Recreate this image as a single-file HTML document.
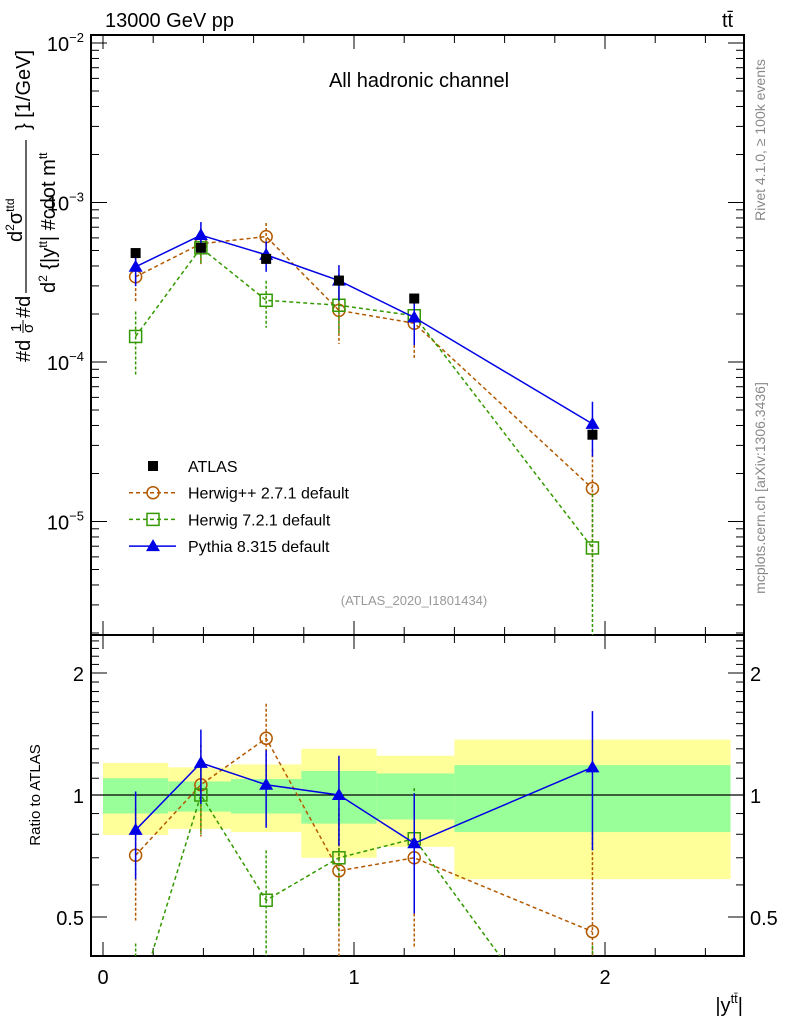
<!DOCTYPE html>
<html><head><meta charset="utf-8"><style>
html,body{margin:0;background:#fff;overflow:hidden;width:786px;height:1024px;}
svg{display:block;font-family:"Liberation Sans",sans-serif;}
</style></head><body>
<svg id="c" width="786" height="1024" xmlns="http://www.w3.org/2000/svg">
<g id="bands"></g>
<g id="axes"></g>
<g id="series"></g>
<text x="105" y="27" font-size="20">13000 GeV pp</text>
<text x="722" y="27" font-size="20">tt̄</text>
<text x="419" y="87" font-size="20" text-anchor="middle">All hadronic channel</text>
<text x="414" y="605" font-size="13" fill="#999" text-anchor="middle">(ATLAS_2020_I1801434)</text>
<text transform="translate(765,140) rotate(-90)" font-size="14" fill="#888" text-anchor="middle">Rivet 4.1.0, ≥ 100k events</text>
<text transform="translate(765,488) rotate(-90)" font-size="14" fill="#888" text-anchor="middle">mcplots.cern.ch [arXiv:1306.3436]</text>
<g font-size="20">
<text transform="translate(30,362) rotate(-90)">#d</text>
<text transform="translate(21,332) rotate(-90)" font-size="15">1</text>
<text transform="translate(33,333) rotate(-90)" font-size="15">σ</text>
<line x1="23" y1="320" x2="23" y2="333" stroke="#000" stroke-width="1"/>
<text transform="translate(30,318) rotate(-90)">#d</text>
<line x1="26" y1="293" x2="26" y2="140" stroke="#000" stroke-width="1.2"/>
<text transform="translate(22,242) rotate(-90)">d<tspan font-size="12" dy="-8">2</tspan><tspan dy="8">σ</tspan><tspan font-size="12" dy="-8">ttd</tspan></text>
<text transform="translate(55,293) rotate(-90)">d<tspan font-size="12" dy="-8">2</tspan><tspan dy="8"> {|y</tspan><tspan font-size="12" dy="-8">tt</tspan><tspan dy="8">| #cdot m</tspan><tspan font-size="12" dy="-8">tt</tspan></text>
<text transform="translate(30,130) rotate(-90)">} [1/GeV]</text>
</g>
<text transform="translate(40,795) rotate(-90)" font-size="15" text-anchor="middle">Ratio to ATLAS</text>
<text x="743" y="1012" font-size="20" text-anchor="end">|y<tspan font-size="13" dy="-9">tt̄</tspan><tspan dy="9">|</tspan></text>
<g id="legend"></g>
</svg>
<script>
const xCenters=[0.13,0.39,0.65,0.94,1.24,1.95];
const binEdges=[0,0.26,0.51,0.79,1.09,1.4,2.5];
const atlasValues=[4.82e-4,5.2e-4,4.43e-4,3.24e-4,2.5e-4,3.5e-5];
const yellowUp=[1.2,1.17,1.19,1.3,1.25,1.37];
const yellowDn=[0.797,0.825,0.81,0.70,0.745,0.62];
const greenUp=[1.10,1.08,1.095,1.146,1.13,1.185];
const greenDn=[0.90,0.91,0.90,0.85,0.87,0.81];
const pythiaRatio=[0.82,1.2,1.06,1.0,0.76,1.17];
const pythiaErr=[0.2,0.25,0.23,0.25,0.25,0.44];
const herwigppRatio=[0.71,1.06,1.38,0.65,0.70,0.46];
const herwigppErr=[0.22,0.27,0.3,0.25,0.28,0.35];
const herwig7Ratio=[0.30,1.0,0.55,0.70,0.78,0.195];
const herwig7Err=[0.13,0.2,0.18,0.23,0.26,0.23];
const xTicks=[0,1,2];
const mainTickExps=[-2,-3,-4,-5];
const ratioTicks=[0.5,1,2];

const NS="http://www.w3.org/2000/svg";
const X0=91,X1=744,MT=35,MB=635,RB=956;
const xs=v=>103+251*v;
const ym=v=>43-159.5*(Math.log10(v)+2);
const yr=v=>795-122*Math.log2(v);
function mk(parent,tag,attrs){const e=document.createElementNS(NS,tag);for(const k in attrs)e.setAttribute(k,attrs[k]);document.getElementById(parent).appendChild(e);return e;}

for(let i=0;i<6;i++){
 const a=xs(binEdges[i]),b=xs(binEdges[i+1]);
 let e=mk('bands','rect',{x:a,y:yr(yellowUp[i]),width:b-a,height:yr(yellowDn[i])-yr(yellowUp[i]),fill:'#ffff99'});
 
 
 e=mk('bands','rect',{x:a,y:yr(greenUp[i]),width:b-a,height:yr(greenDn[i])-yr(greenUp[i]),fill:'#99ff99'});
 
 
}
mk('axes','rect',{x:X0,y:MT,width:X1-X0,height:MB-MT,fill:'none',stroke:'#000','stroke-width':2});
mk('axes','rect',{x:X0,y:MB,width:X1-X0,height:RB-MB,fill:'none',stroke:'#000','stroke-width':2});
mk('axes','line',{x1:X0,x2:X1,y1:yr(1),y2:yr(1),stroke:'#000','stroke-width':1.2});
for(let k=0;k<=25;k+=2){
 const v=k/10;const x=xs(v);if(x>X1)break;
 const maj=k%10==0;const L=maj?14:8;
 for(const [yb,d] of [[MT,1],[MB,-1],[MB,1],[RB,-1]]) mk('axes','line',{x1:x,x2:x,y1:yb,y2:yb+d*L,stroke:'#000','stroke-width':1});
}
xTicks.forEach(v=>{const t=mk('axes','text',{x:xs(v),y:984,'font-size':20,'text-anchor':'middle'});t.textContent=v;});
for(let e=-6;e<=-2;e++)for(let m=1;m<10;m++){
 const v=m*Math.pow(10,e);const y=ym(v);if(y<MT||y>MB)continue;
 const L=m==1?16:8;
 mk('axes','line',{x1:X0,x2:X0+L,y1:y,y2:y,stroke:'#000'});
 mk('axes','line',{x1:X1,x2:X1-L,y1:y,y2:y,stroke:'#000'});
}
mainTickExps.forEach(e=>{const t=mk('axes','text',{x:84,y:ym(Math.pow(10,e))+8,'font-size':20,'text-anchor':'end'});t.innerHTML='10<tspan font-size="13" dy="-9">−'+(-e)+'</tspan>';});
for(let k=4;k<25;k++){const v=k/10;const y=yr(v);if(y<MB||y>RB)continue;
 const maj=ratioTicks.some(r=>Math.abs(r-v)<1e-6);const L=maj?16:8;
 mk('axes','line',{x1:X0,x2:X0+L,y1:y,y2:y,stroke:'#000'});
 mk('axes','line',{x1:X1,x2:X1-L,y1:y,y2:y,stroke:'#000'});}
ratioTicks.forEach(v=>{let t=mk('axes','text',{x:84,y:yr(v)+8,'font-size':20,'text-anchor':'end'});t.textContent=v;
 t=mk('axes','text',{x:750,y:yr(v)+8,'font-size':20});t.textContent=v;});

function clipY(y,top,bot){return Math.max(top,Math.min(bot,y));}
function marker(g,type,x,y,col){
 if(type=='circle')return mk(g,'circle',{cx:x,cy:y,r:6,fill:'none',stroke:col,'stroke-width':1.5});
 if(type=='square')return mk(g,'rect',{x:x-6,y:y-6,width:12,height:12,fill:'none',stroke:col,'stroke-width':1.5});
 if(type=='tri')return mk(g,'path',{d:`M${x},${y-7}L${x+7},${y+5}L${x-7},${y+5}Z`,fill:col});
 if(type=='fsq')return mk(g,'rect',{x:x-5,y:y-5,width:10,height:10,fill:col});
}
const defs=document.createElementNS(NS,'defs');
defs.innerHTML=`<clipPath id="cm"><rect x="${X0}" y="${MT}" width="${X1-X0}" height="${MB-MT}"/></clipPath><clipPath id="cr"><rect x="${X0}" y="${MB}" width="${X1-X0}" height="${RB-MB}"/></clipPath>`;
document.getElementById('c').prepend(defs);
const series=[
 {name:'herwigpp',ratio:herwigppRatio,err:herwigppErr,col:'#b35900',m:'circle',dash:'4,3'},
 {name:'herwig7',ratio:herwig7Ratio,err:herwig7Err,col:'#339900',m:'square',dash:'4,3'},
 {name:'pythia',ratio:pythiaRatio,err:pythiaErr,col:'#0000e6',m:'tri',dash:''}];
series.forEach(s=>{
 const g=mk('series','g',{});
 
 
 g.id=s.name;
 const mp=xCenters.map((x,i)=>[xs(x),ym(s.ratio[i]*atlasValues[i])]);
 const rp=xCenters.map((x,i)=>[xs(x),yr(s.ratio[i])]);
 for(const [pts,top,bot,f] of [[mp,MT,MB,(i,r)=>ym(r*atlasValues[i])],[rp,MB,RB,(i,r)=>yr(r)]]){
  mk(s.name,'path',{d:'M'+pts.map(p=>p.join(',')).join('L'),fill:'none',stroke:s.col,'stroke-width':1.5,'stroke-dasharray':s.dash,'clip-path':top==MT?'url(#cm)':'url(#cr)'});
  pts.forEach((p,i)=>{
   const up=s.ratio[i]+s.err[i],dn=Math.max(1e-3,s.ratio[i]-s.err[i]);
   const y1=clipY(f(i,up),top,bot),y2=clipY(f(i,dn),top,bot);
   mk(s.name,'line',{x1:p[0],x2:p[0],y1:y1,y2:y2,stroke:s.col,'stroke-width':1.5,'stroke-dasharray':s.dash?'3,2':''});
   if(p[1]>=top&&p[1]<=bot){const e=marker(s.name,s.m,p[0],p[1],s.col);
    
    }
  });
 }
});
atlasValues.forEach((v,i)=>{const e=marker('series','fsq',xs(xCenters[i]),ym(v),'#000');
 
 });
const leg=[['ATLAS','#000','fsq',null],['Herwig++ 2.7.1 default','#b35900','circle','4,3'],['Herwig 7.2.1 default','#339900','square','4,3'],['Pythia 8.315 default','#0000e6','tri','']];
leg.forEach((l,i)=>{const y=466+26.7*i;
 if(l[3]!==null)mk('legend','line',{x1:129,x2:176,y1:y,y2:y,stroke:l[1],'stroke-width':1.5,'stroke-dasharray':l[3]});
 const m=marker('legend',l[2],153,y,l[1]);
 
 
 const t=mk('legend','text',{x:188,y:y+6,'font-size':16});t.textContent=l[0];
 
 });
</script>
</body></html>
